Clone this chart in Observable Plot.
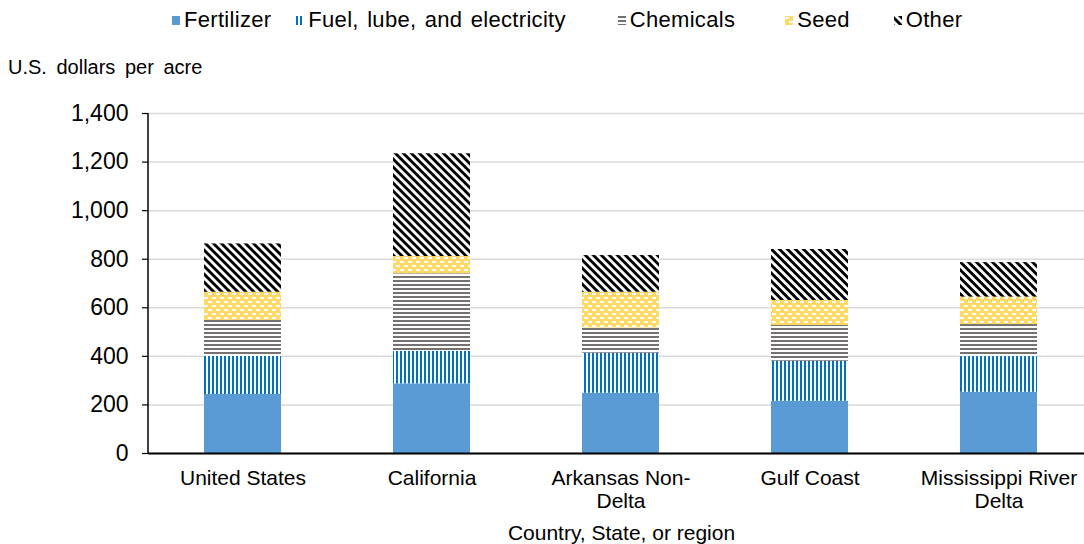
<!DOCTYPE html>
<html>
<head>
<meta charset="utf-8">
<script src="https://cdn.jsdelivr.net/npm/d3@7"></script>
<script src="https://cdn.jsdelivr.net/npm/@observablehq/plot@0.6"></script>
<style>
  html, body { margin: 0; padding: 0; background: #fff; }
  body { font-family: "Liberation Sans", Arial, sans-serif; color: #000; }
  #wrap { position: relative; width: 1084px; height: 544px; overflow: hidden; }
  #legend { position: absolute; left: 172px; top: 0; height: 40px; display: flex; align-items: center; font-size: 22px; letter-spacing: 0.3px; word-spacing: 2px; white-space: nowrap; }
  #legend .item { display: flex; align-items: center; }
  #legend svg { margin-right: 4px; }
  #ytitle { position: absolute; left: 8px; top: 56px; font-size: 20px; word-spacing: 4px; white-space: nowrap; }
  #chart { position: absolute; left: 0; top: 84px; }
  #defs { position: absolute; width: 0; height: 0; }
</style>
</head>
<body>
<svg id="defs" aria-hidden="true">
  <defs>
    <pattern id="pFuel" width="4" height="4" patternUnits="userSpaceOnUse">
      <rect width="4" height="4" fill="#fff"/>
      <rect width="2" height="4" fill="#0070C0"/>
    </pattern>
    <pattern id="pChem" width="4" height="4" patternUnits="userSpaceOnUse">
      <rect width="4" height="4" fill="#fff"/>
      <rect width="4" height="2" fill="#767171"/>
    </pattern>
    <pattern id="pSeed" width="8" height="8" patternUnits="userSpaceOnUse">
      <rect width="8" height="8" fill="#FFD966"/>
      <rect x="0" y="1" width="4" height="2" fill="#fff"/>
      <rect x="4" y="5" width="4" height="2" fill="#fff"/>
    </pattern>
    <pattern id="pOther" width="6" height="5.66" patternUnits="userSpaceOnUse" patternTransform="rotate(45)">
      <rect width="6" height="5.66" fill="#fff"/>
      <rect width="6" height="2.9" fill="#000"/>
    </pattern>
  </defs>
</svg>
<div id="wrap">
  <div id="legend"></div>
  <div id="ytitle">U.S. dollars per acre</div>
  <div id="chart"></div>
</div>
<script>
// Cost categories shown on the x axis
const categories = ["United States", "California", "Arkansas Non-Delta", "Gulf Coast", "Mississippi River Delta"];
const categoryLabels = ["United States", "California", "Arkansas Non-\nDelta", "Gulf Coast", "Mississippi River\nDelta"];

// Stacked cost components, U.S. dollars per acre (bottom to top)
const seriesNames = ["Fertilizer", "Fuel, lube, and electricity", "Chemicals", "Seed", "Other"];
const fertilizer = [243, 287, 248, 215, 252];
const fuel       = [157, 134, 165, 165, 147];
const chemicals  = [148, 319, 104, 147, 132];
const seed       = [116,  71, 147, 103, 113];
const other      = [199, 423, 151, 210, 142];

const yTicks = [0, 200, 400, 600, 800, 1000, 1200, 1400];

// Fill for each component (solid colour or SVG pattern)
const seriesFills = ["#5B9BD5", "url(#pFuel)", "url(#pChem)", "url(#pSeed)", "url(#pOther)"];
// Spacing after each legend entry
const legendGaps = [25, 52, 50, 44, 0];

const seriesValues = [fertilizer, fuel, chemicals, seed, other];
const rows = [];
seriesNames.forEach((s, si) => {
  categories.forEach((c, ci) => rows.push({category: c, series: s, value: seriesValues[si][ci]}));
});

// Legend
const legend = document.getElementById("legend");
seriesNames.forEach((name, i) => {
  const item = document.createElement("div");
  item.className = "item";
  item.style.marginRight = legendGaps[i] + "px";
  item.innerHTML = `<svg width="8" height="9"><rect width="8" height="9" fill="${seriesFills[i]}"/></svg><span>${name}</span>`;
  legend.appendChild(item);
});

const labelOf = new Map(categories.map((c, i) => [c, categoryLabels[i]]));

const chart = Plot.plot({
  width: 1084,
  height: 460,
  marginTop: 29,
  marginBottom: 91,
  marginLeft: 148,
  marginRight: -10,
  style: {fontFamily: "'Liberation Sans', Arial, sans-serif", fontSize: "21px", color: "#000", background: "transparent", overflow: "visible"},
  x: {domain: categories, paddingInner: 0.59, paddingOuter: 0.295, axis: null},
  y: {domain: [0, 1400], axis: null},
  color: {domain: seriesNames, range: seriesFills},
  marks: [
    Plot.gridY(yTicks, {stroke: "#d9d9d9", strokeOpacity: 1, strokeWidth: 1.5}),
    Plot.barY(rows, {x: "category", y: "value", fill: "series", order: seriesNames}),
    Plot.ruleY([0], {stroke: "#000", strokeWidth: 2.2}),
    // y axis line
    (index, scales, values, dims) => {
      const line = document.createElementNS("http://www.w3.org/2000/svg", "line");
      const x = dims.marginLeft;
      line.setAttribute("x1", x); line.setAttribute("x2", x);
      line.setAttribute("y1", scales.y(1400)); line.setAttribute("y2", scales.y(0));
      line.setAttribute("stroke", "#000"); line.setAttribute("stroke-width", "1.5");
      return line;
    },
    Plot.axisY(yTicks, {tickSize: 6, tickPadding: 14, tickFormat: d3.format(","), fontSize: 23, stroke: "#000", strokeWidth: 1.2, label: null}),
    Plot.axisX({tickSize: 0, tickPadding: 14, fontSize: 21, lineHeight: 1.14, tickFormat: d => labelOf.get(d), label: null}),
    Plot.text(["Country, State, or region"], {frameAnchor: "bottom", dy: 86, fontSize: 21})
  ]
});
document.getElementById("chart").appendChild(chart);
</script>
</body>
</html>
